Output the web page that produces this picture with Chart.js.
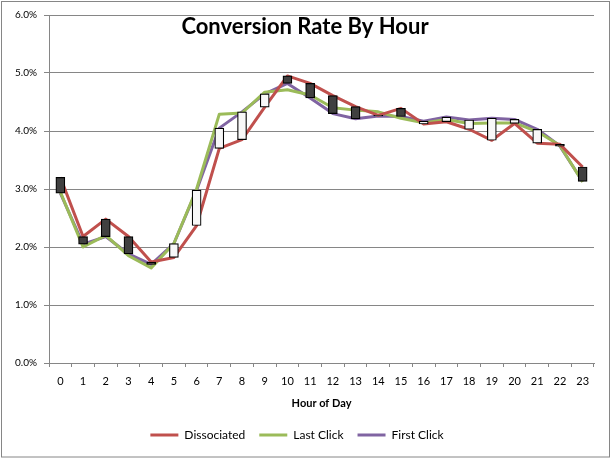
<!DOCTYPE html>
<html>
<head>
<meta charset="utf-8">
<script src="https://cdn.jsdelivr.net/npm/chart.js@4"></script>
<style>
  html,body{margin:0;padding:0;background:#fff;}
  #wrap{position:relative;width:611px;height:459px;}
</style>
</head>
<body>
<div id="wrap"><canvas id="c" width="611" height="459"></canvas></div>
<script>
const TITLE = 'Conversion Rate By Hour';
const X_TITLE = 'Hour of Day';
const hours = ['0','1','2','3','4','5','6','7','8','9','10','11','12','13','14','15','16','17','18','19','20','21','22','23'];
const dissociated = [3.20, 2.18, 2.48, 2.18, 1.74, 1.82, 2.37, 3.70, 3.85, 4.41, 4.95, 4.82, 4.61, 4.42, 4.27, 4.39, 4.12, 4.16, 4.03, 3.84, 4.13, 3.79, 3.77, 3.38];
const lastClick   = [2.95, 2.00, 2.20, 1.85, 1.64, 2.06, 3.00, 4.29, 4.31, 4.67, 4.71, 4.62, 4.40, 4.36, 4.33, 4.22, 4.14, 4.20, 4.13, 4.14, 4.14, 3.99, 3.75, 3.12];
const firstClick  = [2.93, 2.05, 2.18, 1.88, 1.70, 2.06, 2.98, 4.05, 4.33, 4.64, 4.82, 4.57, 4.30, 4.21, 4.26, 4.25, 4.17, 4.24, 4.19, 4.22, 4.20, 4.03, 3.74, 3.13];
const seriesNames = ['Dissociated', 'Last Click', 'First Click'];
const seriesColors = ['#C0504D', '#9BBB59', '#8064A2'];

// up/down bars between first series (Dissociated) and last series (First Click)
const upDown = dissociated.map((v, i) => [Math.min(v, firstClick[i]), Math.max(v, firstClick[i])]);
const upDownFill = dissociated.map((v, i) => firstClick[i] >= v ? '#F8F8F8' : '#404040');

const FONT = 'Lato, "Open Sans", sans-serif';

const frame = {
  id: 'frame',
  beforeDraw(chart) {
    const ctx = chart.ctx;
    ctx.save();
    ctx.fillStyle = '#fff';
    ctx.fillRect(0, 0, chart.width, chart.height);
    ctx.strokeStyle = '#868686';
    ctx.lineWidth = 1;
    ctx.strokeRect(1.5, 1.5, 608, 455.5);
    ctx.restore();
  },
  afterDraw(chart) {
    const ctx = chart.ctx;
    ctx.save();
    ctx.fillStyle = '#000';
    ctx.font = 'bold 22px ' + FONT;
    ctx.textAlign = 'center';
    ctx.textBaseline = 'middle';
    ctx.fillText(TITLE, 305, 27);
    ctx.restore();
  }
};

const lineDs = (name, data, color) => ({
  type: 'line', label: name, data, borderColor: color, backgroundColor: color,
  borderWidth: 3, pointRadius: 0, pointHoverRadius: 0, pointStyle: 'line',
  tension: 0, borderJoinStyle: 'round', order: 2
});

new Chart(document.getElementById('c'), {
  type: 'bar',
  data: {
    labels: hours,
    datasets: [
      lineDs(seriesNames[0], dissociated, seriesColors[0]),
      lineDs(seriesNames[1], lastClick, seriesColors[1]),
      lineDs(seriesNames[2], firstClick, seriesColors[2]),
      { type: 'bar', label: 'updown', data: upDown, backgroundColor: upDownFill,
        borderColor: '#000', borderWidth: 1.2, borderSkipped: false, barThickness: 9, order: 0 }
    ]
  },
  options: {
    responsive: false, animation: false,
    layout: { padding: { top: 15, right: 17, left: 0, bottom: 8 } },
    plugins: {
      tooltip: { enabled: false },
      title: { display: false },
      legend: {
        position: 'bottom',
        labels: {
          filter: item => item.datasetIndex < 3,
          usePointStyle: true, pointStyleWidth: 28,
          font: { family: FONT, size: 12 }, color: '#000', padding: 14
        }
      }
    },
    scales: {
      x: {
        offset: true,
        grid: { display: true, offset: true, drawOnChartArea: false, drawTicks: true, tickLength: 4, color: '#868686' },
        border: { display: true, color: '#868686' },
        ticks: { font: { family: FONT, size: 11 }, color: '#000', padding: 8, maxRotation: 0, autoSkip: false },
        title: { display: true, text: X_TITLE, font: { family: FONT, size: 11, weight: 'bold' }, color: '#000', padding: { top: 4, bottom: 5 } },
        afterFit: s => { s.height = 52; }
      },
      y: {
        min: 0, max: 6,
        ticks: { stepSize: 1, font: { family: FONT, size: 10 }, color: '#000', padding: 7,
                 callback: v => v.toFixed(1) + '%' },
        grid: { color: '#868686', tickLength: 5, lineWidth: 1 },
        border: { display: true, color: '#868686' },
        afterFit: s => { s.width = 49; }
      }
    }
  },
  plugins: [frame]
});
</script>
</body>
</html>
